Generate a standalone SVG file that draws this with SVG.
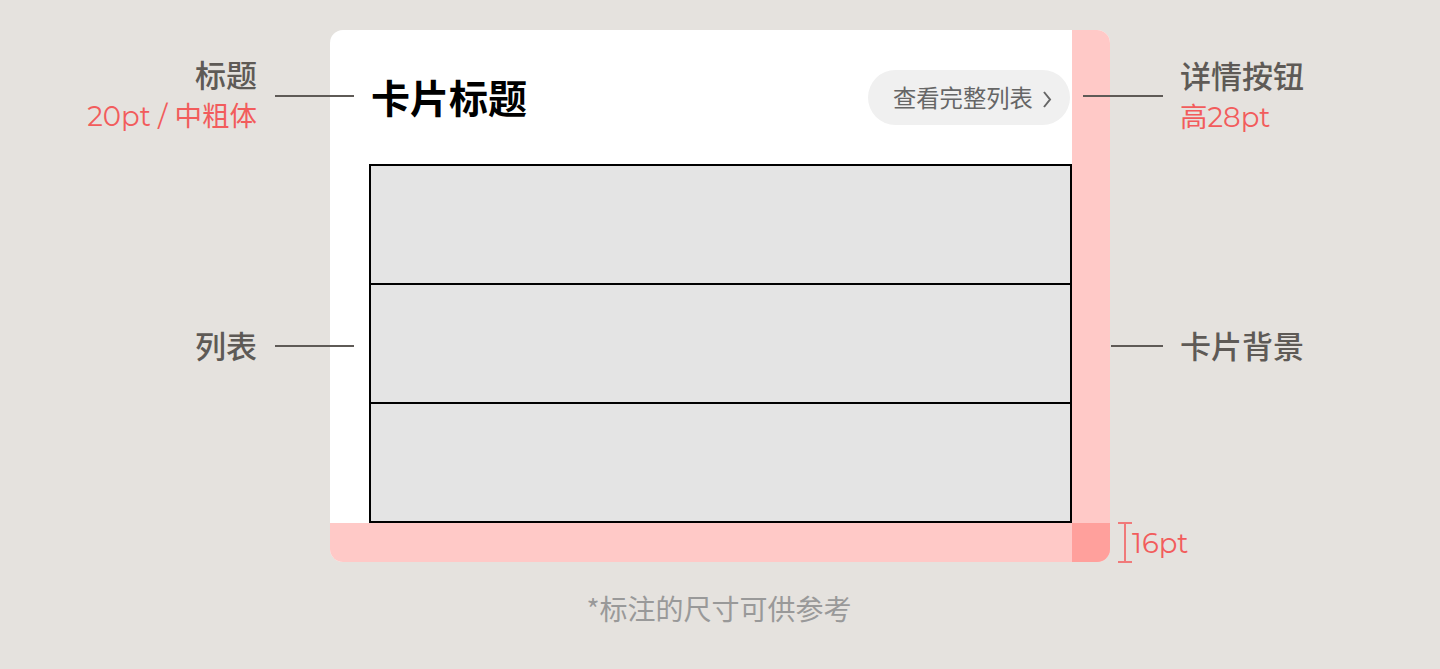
<svg xmlns="http://www.w3.org/2000/svg" width="1440" height="669" viewBox="0 0 1440 669">
<style>
.lbl{font-family:"Noto Sans CJK SC","Noto Sans",sans-serif;font-weight:500;font-size:31px;fill:#5e5a56}
.red{font-family:"Montserrat","Lato","Noto Sans CJK SC",sans-serif;font-size:27.5px;fill:#f25c5c}
.ln{stroke:#5e5a56;stroke-width:2}
</style>
<defs>
<clipPath id="cardClip"><rect x="330" y="30" width="780" height="532" rx="13"/></clipPath>
</defs>
<rect width="1440" height="669" fill="#e5e2de"/>
<g id="card">
<g clip-path="url(#cardClip)">
<rect x="330" y="30" width="780" height="532" fill="#ffffff"/>
<rect x="1072" y="30" width="38" height="532" fill="#ffc9c7"/>
<rect x="330" y="523" width="780" height="39" fill="#ffc9c7"/>
<rect x="1072" y="523" width="38" height="39" fill="#ffa09c"/>
</g>
</g>
<g id="title"><text x="371" y="113" font-family="Noto Sans CJK SC,sans-serif" font-weight="bold" font-size="39" fill="#000">卡片标题</text></g>
<g id="button">
<rect x="868" y="70" width="202" height="55" rx="27.5" fill="#f0f0f0"/>
<text x="893" y="107" font-family="Noto Sans CJK SC,sans-serif" font-size="23.3" fill="#666">查看完整列表</text>
<path d="M1044 92 L1050 99.5 L1044 107" fill="none" stroke="#666" stroke-width="2"/>
</g>
<g id="list" fill="#e4e4e4" stroke="#000" stroke-width="2">
<rect x="370" y="165" width="701" height="119"/>
<rect x="370" y="284" width="701" height="119"/>
<rect x="370" y="403" width="701" height="119"/>
</g>
<g id="connectors">
<line class="ln" x1="275" y1="96" x2="354" y2="96"/>
<line class="ln" x1="275" y1="346" x2="354" y2="346"/>
<line class="ln" x1="1083" y1="96" x2="1163" y2="96"/>
<line class="ln" x1="1111" y1="346" x2="1163" y2="346"/>
</g>
<g id="label-title">
<text class="lbl" x="257" y="87" text-anchor="end">标题</text>
<text class="red" x="257" y="126" text-anchor="end">20pt / 中粗体</text>
</g>
<g id="label-list"><text class="lbl" x="257" y="358" text-anchor="end">列表</text></g>
<g id="label-button">
<text class="lbl" x="1180" y="88">详情按钮</text>
<text class="red" x="1180" y="127">高28pt</text>
</g>
<g id="label-bg"><text class="lbl" x="1180" y="358">卡片背景</text></g>
<g id="dimension" stroke="#f07a7a" stroke-width="2">
<line x1="1125" y1="523" x2="1125" y2="562"/>
<line x1="1118" y1="523" x2="1132" y2="523"/>
<line x1="1118" y1="562" x2="1132" y2="562"/>
</g>
<text class="red" x="1132" y="553">16pt</text>
<text x="719" y="620" text-anchor="middle" font-family="Noto Sans CJK SC,sans-serif" font-size="28" fill="#999">*标注的尺寸可供参考</text>
</svg>
